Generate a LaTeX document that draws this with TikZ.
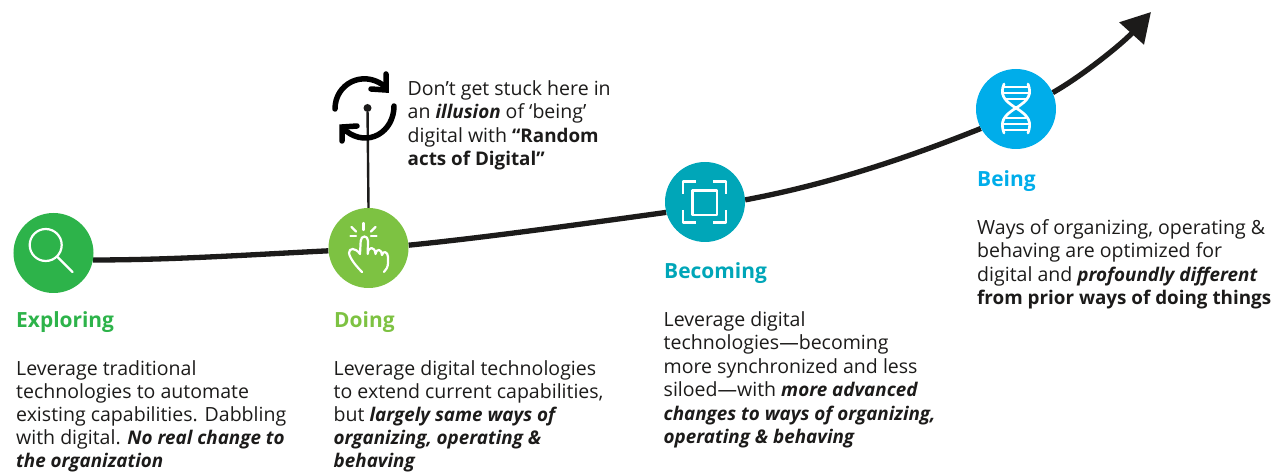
\documentclass[tikz,border=0pt]{standalone}
\usepackage{fontspec}
\setmainfont{Open Sans}
\usetikzlibrary{arrows.meta,backgrounds}
\definecolor{cExp}{HTML}{2DB34A}
\definecolor{cDo}{HTML}{7DC242}
\definecolor{cBec}{HTML}{00A6B8}
\definecolor{cBe}{HTML}{00ADEA}
\definecolor{ink}{HTML}{1C1B1A}
\tikzset{
  x=1bp,y=-1bp,
  stage/.style={circle,minimum size=80bp,inner sep=0pt,draw=none},
  title/.style={anchor=base west,inner sep=0pt,font=\fontsize{21}{24}\selectfont\bfseries},
  body/.style={anchor=base west,inner sep=0pt,align=left,text=ink,font=\fontsize{19.6}{23.5}\selectfont},
  bodytight/.style={body,font=\fontsize{19.6}{23}\selectfont},
  spine/.style={draw=ink,line width=5.3bp},
  icon/.style={draw=white,line width=2.2bp,line cap=round,line join=round},
  loopic/.style={draw=black,line width=5.5bp,line cap=round,line join=miter}
}
\newcommand{\bi}[1]{{\fontsize{18.9}{23}\selectfont\textbf{\textit{#1}}}}
\newcommand{\bo}[1]{{\fontsize{18.9}{23}\selectfont\textbf{#1}}}
\begin{document}
\begin{tikzpicture}
\useasboundingbox (0,0) rectangle (1273,472);
\node[stage,fill=cExp] (ex) at (53.5,253) {};
\node[stage,fill=cDo] (do) at (368.5,248) {};
\node[stage,fill=cBec] (bc) at (705,202) {};
\node[stage,fill=cBe] (bg) at (1016,109) {};
\coordinate (tip) at (1151,12);
\node[circle,fill=ink,minimum size=8bp,inner sep=0pt] (dot) at (367.5,108) {};
% spine
\begin{scope}[on background layer]
\draw[spine] (ex.-10) .. controls +(80,0) and +(-80,4) .. (do.184);
\draw[spine] (do.4) .. controls +(80,-8) and +(-80,11) .. (bc.195);
\draw[spine] (bc.3) .. controls +(80,-15) and +(-80,32) .. (bg.209);
\draw[spine,-{Triangle[length=29bp,width=32bp]}] (bg.24) .. controls +(30,-17) and +(-28,31) .. (tip);
\end{scope}
\draw[ink,line width=2.4bp] (dot) -- (do.north);
% loop icon
\draw[loopic] (335,109) .. controls (335,84) and (362,70) .. (383,85);
\draw[loopic] (371,89) -- (386,90) -- (386,74);
\draw[loopic] (394,106) .. controls (394,132) and (368,148) .. (346,131);
\draw[loopic] (357,126) -- (342,127) -- (342,141);
% magnifier
\draw[icon] (45.7,245) circle (16);
\draw[icon] (57.5,257) -- (72.5,272);
% hand
\draw[icon] (362,272) .. controls (357,267) and (350,259) .. (349,253) .. controls (349,248) and (355,247) .. (360,254)
  -- (360.7,241) .. controls (361,235) and (368,235) .. (368,241) -- (367.7,254)
  .. controls (368,246) and (375,246) .. (375.5,254) .. controls (376,248) and (382,249) .. (382,255)
  .. controls (383,250) and (388,252) .. (388,257) -- (388,263) .. controls (388,267) and (386,270) .. (384,272);
\draw[icon] (363.5,223) -- (363.5,230);
\draw[icon] (351.5,227) -- (356,231.5);
\draw[icon] (375.5,227) -- (371,231.5);
\draw[icon] (350.5,236) -- (356,236);
\draw[icon] (371,236) -- (376.5,236);
% focus frame
\draw[icon,line cap=butt,line width=2.5bp] (683,194) -- (683,181.5) -- (696,181.5);
\draw[icon,line cap=butt,line width=2.5bp] (713,181.5) -- (726,181.5) -- (726,194);
\draw[icon,line cap=butt,line width=2.5bp] (683,210) -- (683,222.5) -- (696,222.5);
\draw[icon,line cap=butt,line width=2.5bp] (713,222.5) -- (726,222.5) -- (726,210);
\draw[icon,line cap=butt,line width=2.8bp] (692.5,190.5) rectangle (717,215);
% dna
\draw[icon,line width=2.7bp] (1004,84) .. controls (1000,94) and (1003,100) .. (1016,108) .. controls (1029,116) and (1032,122) .. (1028,133);
\draw[icon,line width=2.7bp] (1028,84) .. controls (1032,94) and (1029,100) .. (1016,108) .. controls (1003,116) and (1000,122) .. (1004,133);
\draw[icon,line cap=butt] (1004,87) -- (1028,87);
\draw[icon,line cap=butt] (1003,93) -- (1029,93);
\draw[icon,line cap=butt] (1006,99) -- (1026,99);
\draw[icon,line cap=butt] (1006,118) -- (1026,118);
\draw[icon,line cap=butt] (1003,124) -- (1029,124);
\draw[icon,line cap=butt] (1004,130) -- (1028,130);
% labels
\node[title,text=cExp] (t1) at (16,328) {Exploring};
\node[title,text=cDo] (t2) at (334,328) {Doing};
\node[title,text=cBec] (t3) at (664,279) {Becoming};
\node[title,text=cBe] (t4) at (977,187) {Being};
\node[body] (b0) at (407.5,165.5) {Don’t get stuck here in\\an \bi{illusion} of ‘being’\\digital with \bo{“Random}\\\bo{acts of Digital”}};
\node[bodytight] (b1) at (16,467.5) {Leverage traditional\\technologies to automate\\existing capabilities. Dabbling\\with digital. \bi{No real change to}\\\bi{the organization}};
\node[bodytight] (b2) at (333.5,467.5) {Leverage digital technologies\\to extend current capabilities,\\but \bi{largely same ways of}\\\bi{organizing, operating \&}\\\bi{behaving}};
\node[body] (b3) at (663.5,443.5) {Leverage digital\\technologies—becoming\\more synchronized and less\\siloed—with \bi{more advanced}\\\bi{changes to ways of organizing,}\\\bi{operating \& behaving}};
\node[body] (b4) at (977,304.5) {Ways of organizing, operating \&\\behaving are optimized for\\digital and \bi{profoundly different}\\\bo{from prior ways of doing things}};
\end{tikzpicture}
\end{document}
